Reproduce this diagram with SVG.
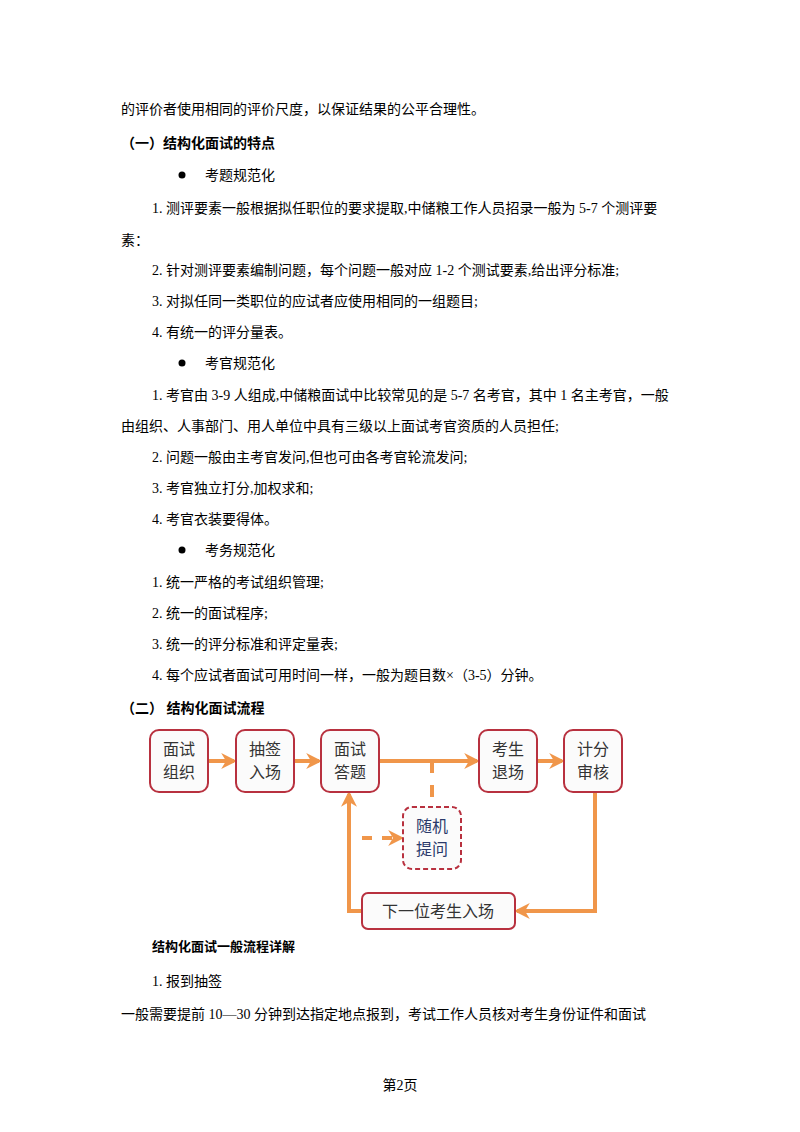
<svg xmlns="http://www.w3.org/2000/svg" width="800" height="1132" viewBox="0 0 800 1132">
<defs>
<marker id="ah" viewBox="0 0 10 10" refX="8" refY="5" markerWidth="4" markerHeight="4" orient="auto"><path d="M0,0 L10,5 L0,10 L3,5 Z" fill="#f0964a"/></marker>
</defs>
<style>
text{font-family:"Liberation Serif","Noto Sans CJK SC",serif;font-size:14px;fill:#000}
.b{font-weight:bold}
.n{fill:#fbfbfb;stroke:#b8313f;stroke-width:2}
.d{stroke-dasharray:5,3}
.t{font-family:"Noto Sans CJK SC",sans-serif;font-size:16px;fill:#333;text-anchor:middle}
.c{stroke:#f0964a;stroke-width:4;fill:none}
</style>
<rect width="800" height="1132" fill="#fff"/>
<text x="121" y="114">的评价者使用相同的评价尺度，以保证结果的公平合理性。</text>
<text x="121" y="148" class="b">（一）结构化面试的特点</text>
<circle cx="182" cy="175" r="3.5" fill="#000"/><text x="205" y="180">考题规范化</text>
<text x="152" y="213">1.  测评要素一般根据拟任职位的要求提取,中储粮工作人员招录一般为 5-7 个测评要</text>
<text x="121" y="245">素：</text>
<text x="152" y="275">2.  针对测评要素编制问题，每个问题一般对应 1-2 个测试要素,给出评分标准;</text>
<text x="152" y="306">3.  对拟任同一类职位的应试者应使用相同的一组题目;</text>
<text x="152" y="337">4.  有统一的评分量表。</text>
<circle cx="182" cy="363" r="3.5" fill="#000"/><text x="205" y="368">考官规范化</text>
<text x="152" y="400">1.  考官由 3-9 人组成,中储粮面试中比较常见的是 5-7 名考官，其中 1 名主考官，一般</text>
<text x="121" y="431">由组织、人事部门、用人单位中具有三级以上面试考官资质的人员担任;</text>
<text x="152" y="462">2.  问题一般由主考官发问,但也可由各考官轮流发问;</text>
<text x="152" y="493">3.  考官独立打分,加权求和;</text>
<text x="152" y="524">4.  考官衣装要得体。</text>
<circle cx="182" cy="550" r="3.5" fill="#000"/><text x="205" y="555">考务规范化</text>
<text x="152" y="587">1.  统一严格的考试组织管理;</text>
<text x="152" y="618">2.  统一的面试程序;</text>
<text x="152" y="649">3.  统一的评分标准和评定量表;</text>
<text x="152" y="680">4.  每个应试者面试可用时间一样，一般为题目数×（3-5）分钟。</text>
<text x="121" y="713" class="b">（二）  结构化面试流程</text>
<g id="connectors">
<line class="c" x1="208" y1="761" x2="234" y2="761" marker-end="url(#ah)"/>
<line class="c" x1="294" y1="761" x2="319" y2="761" marker-end="url(#ah)"/>
<line class="c" x1="379" y1="761" x2="477" y2="761" marker-end="url(#ah)"/>
<line class="c" x1="537" y1="761" x2="562" y2="761" marker-end="url(#ah)"/>
<line class="c" x1="432" y1="761" x2="432" y2="807" stroke-dasharray="12,12"/>
<line class="c" x1="362" y1="838" x2="401" y2="838" stroke-dasharray="10,10" marker-end="url(#ah)"/>
<polyline class="c" points="595,792 595,911 517,911" marker-end="url(#ah)"/>
<polyline class="c" points="362,911 349,911 349,794" marker-end="url(#ah)"/>
</g>
<g id="n1"><rect class="n" x="150" y="730" width="58" height="62" rx="9"/><text class="t" x="179" y="755">面试</text><text class="t" x="179" y="778">组织</text></g>
<g id="n2"><rect class="n" x="236" y="730" width="58" height="62" rx="9"/><text class="t" x="265" y="755">抽签</text><text class="t" x="265" y="778">入场</text></g>
<g id="n3"><rect class="n" x="321" y="730" width="58" height="62" rx="9"/><text class="t" x="350" y="755">面试</text><text class="t" x="350" y="778">答题</text></g>
<g id="n4"><rect class="n" x="479" y="730" width="58" height="62" rx="9"/><text class="t" x="508" y="755">考生</text><text class="t" x="508" y="778">退场</text></g>
<g id="n5"><rect class="n" x="564" y="730" width="58" height="62" rx="9"/><text class="t" x="593" y="755">计分</text><text class="t" x="593" y="778">审核</text></g>
<g id="n6"><rect class="n d" x="403" y="807" width="58" height="62" rx="9"/><text class="t" x="432" y="832" style="fill:#2b3a6b">随机</text><text class="t" x="432" y="855" style="fill:#2b3a6b">提问</text></g>
<g id="n7"><rect class="n" x="362" y="893" width="153" height="36" rx="6"/><text class="t" x="438" y="917">下一位考生入场</text></g>
<text x="152" y="951" class="b" style="font-size:13px">结构化面试一般流程详解</text>
<text x="152" y="986">1. 报到抽签</text>
<text x="121" y="1019">一般需要提前  10—30 分钟到达指定地点报到，考试工作人员核对考生身份证件和面试</text>
<text x="400" y="1090" style="text-anchor:middle">第2页</text>
</svg>
